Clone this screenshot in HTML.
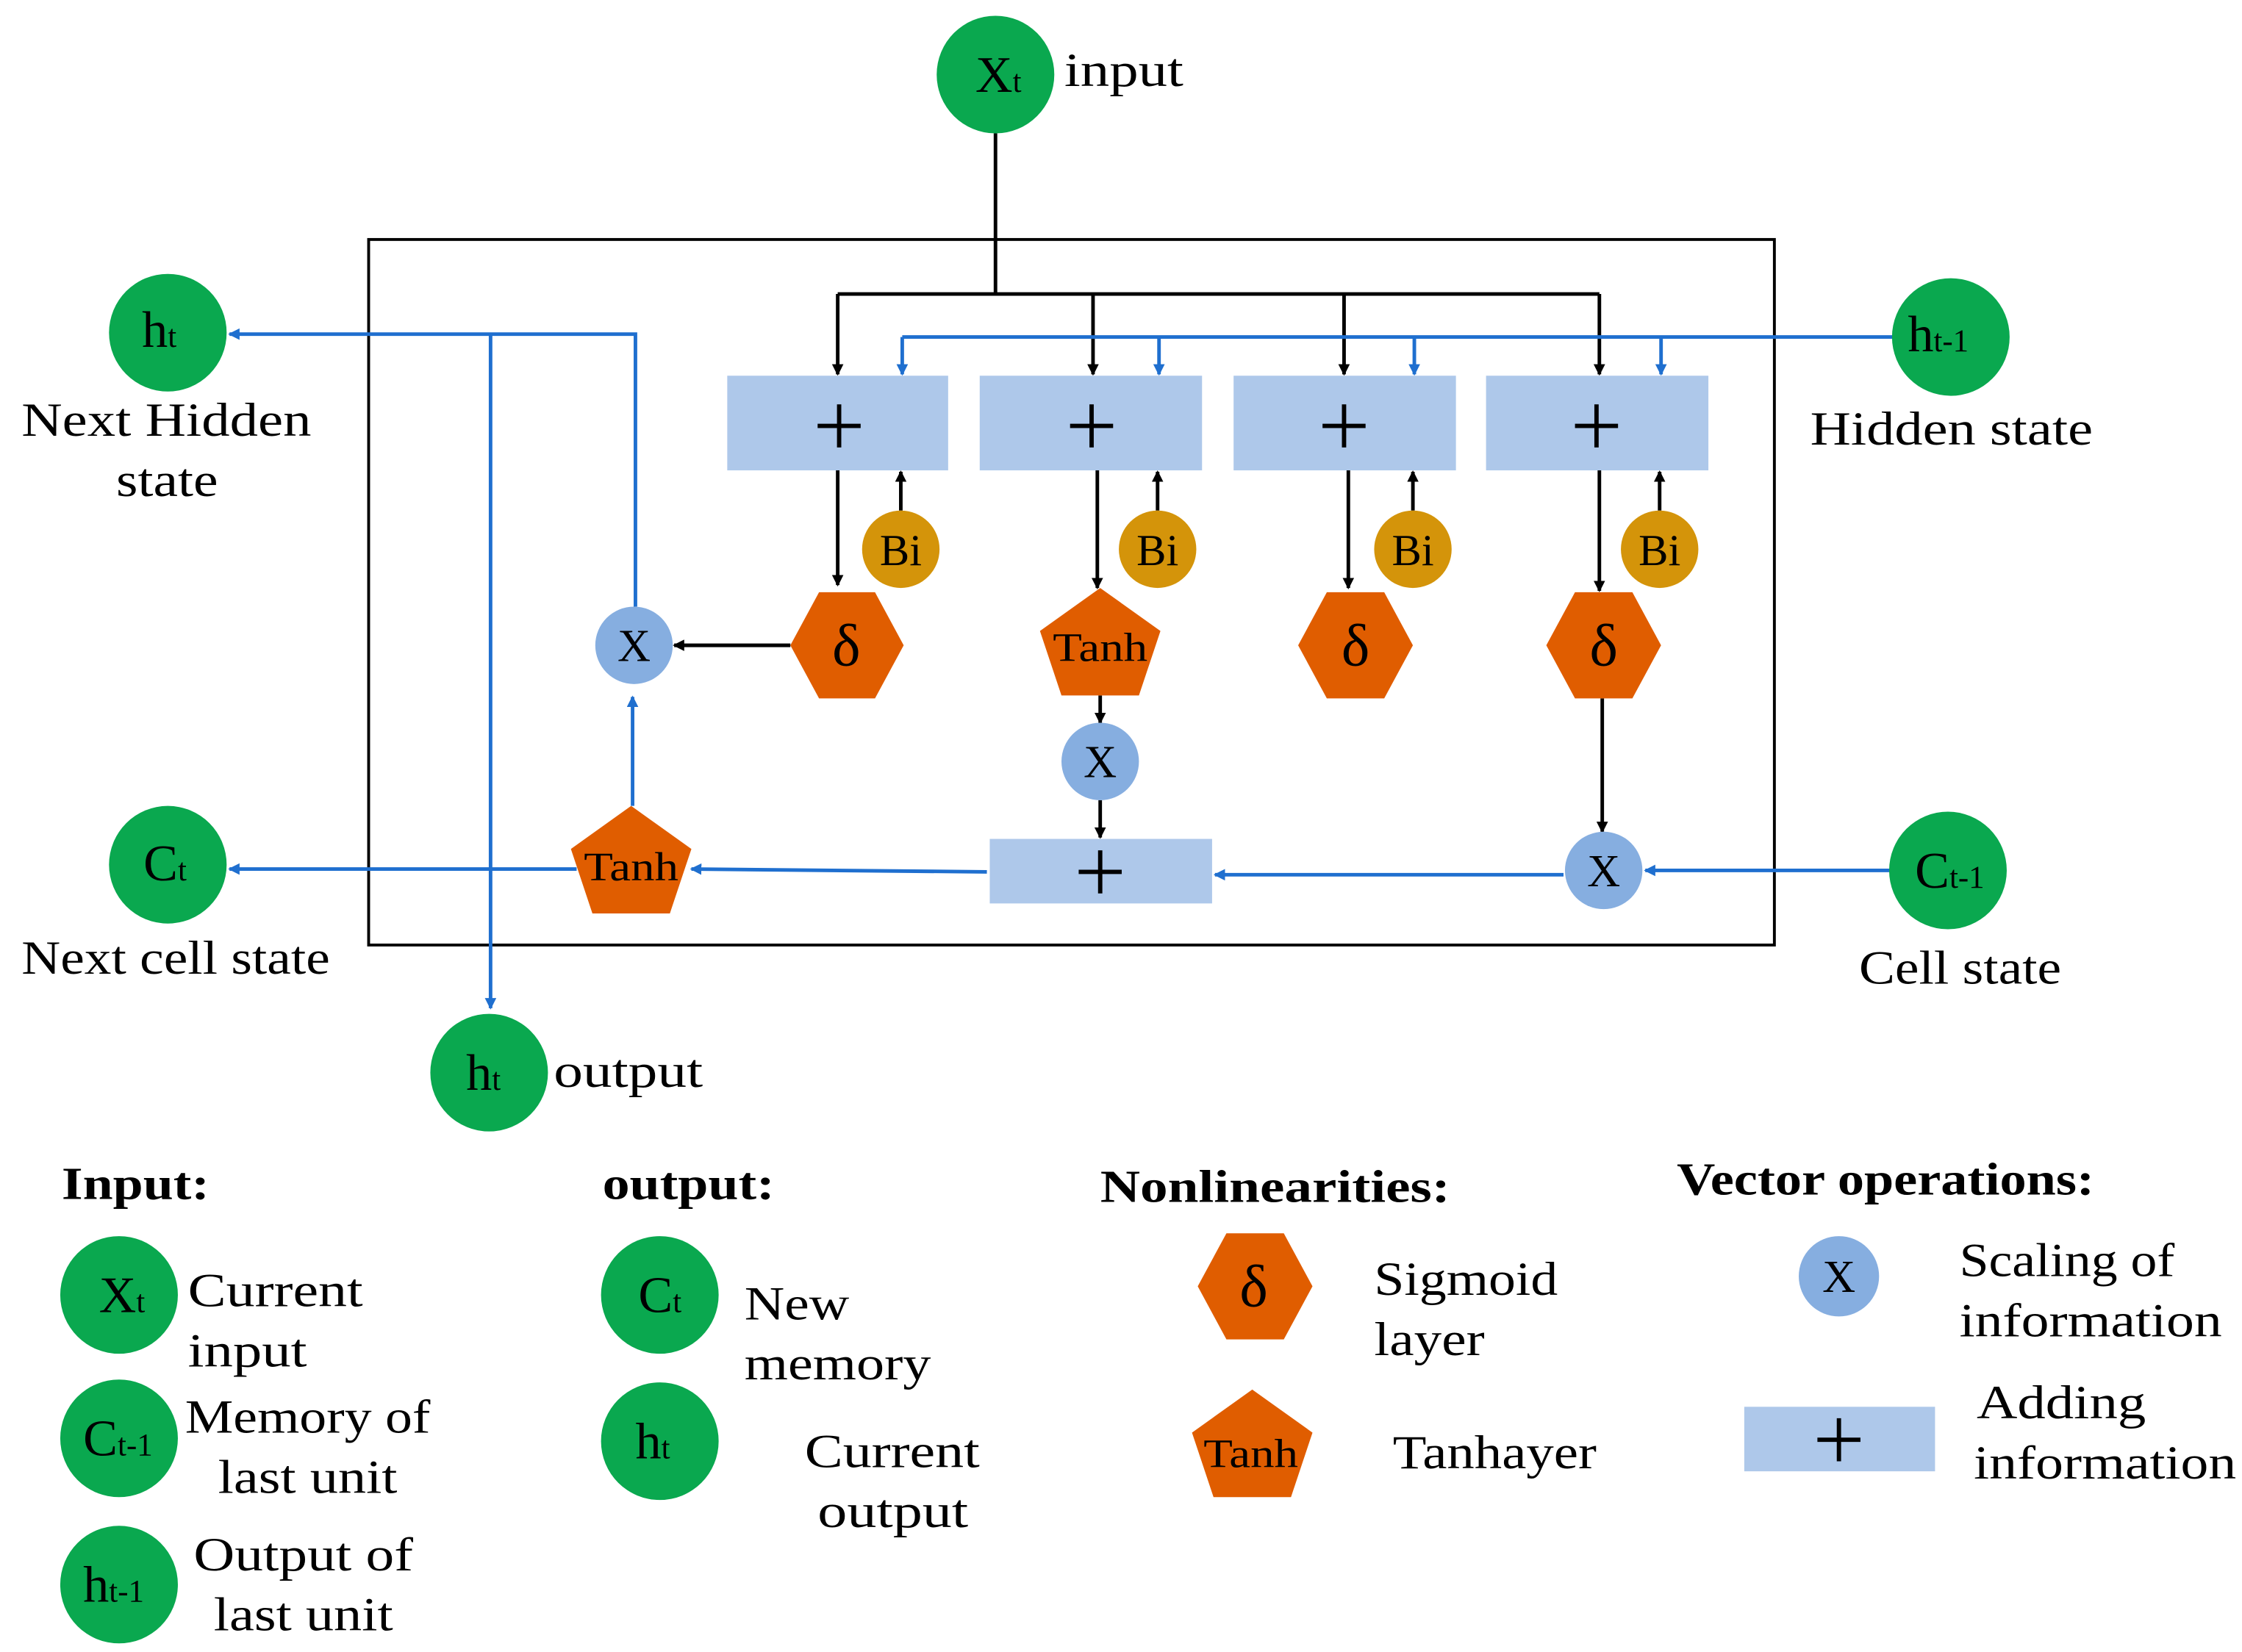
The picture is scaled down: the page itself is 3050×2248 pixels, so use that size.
<!DOCTYPE html>
<html><head><meta charset="utf-8"><style>html,body{margin:0;padding:0;background:#fff}svg{display:block}</style></head>
<body>
<svg width="3050" height="2248" viewBox="0 0 1563 1152" preserveAspectRatio="none" xmlns="http://www.w3.org/2000/svg" font-family="'Liberation Serif', serif">
<defs>
<marker id="ab" markerWidth="8" markerHeight="8" refX="7" refY="4" orient="auto" markerUnits="userSpaceOnUse"><path d="M0,0 L8,4 L0,8 z" fill="#000"/></marker>
<marker id="au" markerWidth="8" markerHeight="8" refX="7" refY="4" orient="auto" markerUnits="userSpaceOnUse"><path d="M0,0 L8,4 L0,8 z" fill="#1f6fcf"/></marker>
</defs>
<rect x="257" y="167" width="980" height="492" fill="none" stroke="#000" stroke-width="2"/>
<g stroke="#000" stroke-width="2.5" fill="none">
<line x1="694" y1="93" x2="694" y2="205"/>
<line x1="584" y1="205" x2="1115" y2="205"/>
<line x1="584" y1="205" x2="584" y2="261" marker-end="url(#ab)"/>
<line x1="762" y1="205" x2="762" y2="261" marker-end="url(#ab)"/>
<line x1="937" y1="205" x2="937" y2="261" marker-end="url(#ab)"/>
<line x1="1115" y1="205" x2="1115" y2="261" marker-end="url(#ab)"/>
<line x1="584" y1="328" x2="584" y2="408" marker-end="url(#ab)"/>
<line x1="765" y1="328" x2="765" y2="410" marker-end="url(#ab)"/>
<line x1="940" y1="328" x2="940" y2="410" marker-end="url(#ab)"/>
<line x1="1115" y1="328" x2="1115" y2="412" marker-end="url(#ab)"/>
<line x1="628" y1="356" x2="628" y2="329" marker-end="url(#ab)"/>
<line x1="807" y1="356" x2="807" y2="329" marker-end="url(#ab)"/>
<line x1="985" y1="356" x2="985" y2="329" marker-end="url(#ab)"/>
<line x1="1157" y1="356" x2="1157" y2="329" marker-end="url(#ab)"/>
<line x1="551" y1="450" x2="470" y2="450" marker-end="url(#ab)"/>
<line x1="767" y1="485" x2="767" y2="504" marker-end="url(#ab)"/>
<line x1="767" y1="558" x2="767" y2="584" marker-end="url(#ab)"/>
<line x1="1117" y1="487" x2="1117" y2="580" marker-end="url(#ab)"/>
</g>
<g stroke="#1f6fcf" stroke-width="2.5" fill="none">
<line x1="629" y1="235" x2="1320" y2="235"/>
<line x1="629" y1="235" x2="629" y2="261" marker-end="url(#au)"/>
<line x1="808" y1="235" x2="808" y2="261" marker-end="url(#au)"/>
<line x1="986" y1="235" x2="986" y2="261" marker-end="url(#au)"/>
<line x1="1158" y1="235" x2="1158" y2="261" marker-end="url(#au)"/>
<line x1="1318" y1="607" x2="1147" y2="607" marker-end="url(#au)"/>
<line x1="1090" y1="610" x2="847" y2="610" marker-end="url(#au)"/>
<line x1="688" y1="608" x2="482" y2="606" marker-end="url(#au)"/>
<line x1="402" y1="606" x2="160" y2="606" marker-end="url(#au)"/>
<line x1="441" y1="562" x2="441" y2="486" marker-end="url(#au)"/>
<polyline points="443,423 443,233 160,233" marker-end="url(#au)"/>
<line x1="342" y1="233" x2="342" y2="703" marker-end="url(#au)"/>
</g>
<g fill="#aec8ea">
<rect x="507" y="262" width="154" height="66"/><rect x="683" y="262" width="155" height="66"/>
<rect x="860" y="262" width="155" height="66"/><rect x="1036" y="262" width="155" height="66"/>
<rect x="690" y="585" width="155" height="45"/>
<rect x="1216" y="981" width="133" height="45"/>
</g>
<g stroke="#000" stroke-width="3">
<path d="M570,297 h30 M585,282 v30"/><path d="M746,297 h30 M761,282 v30"/>
<path d="M922,297 h30 M937,282 v30"/><path d="M1098,297 h30 M1113,282 v30"/>
<path d="M752,608 h30 M767,593 v30"/><path d="M1267,1004 h30 M1282,989 v30"/>
</g>
<g fill="#d4940a"><circle cx="628" cy="383" r="27"/><circle cx="807" cy="383" r="27"/><circle cx="985" cy="383" r="27"/><circle cx="1157" cy="383" r="27"/></g>
<g font-size="31" text-anchor="middle"><text x="628" y="394">Bi</text><text x="807" y="394">Bi</text><text x="985" y="394">Bi</text><text x="1157" y="394">Bi</text></g>
<g fill="#e05d00">
<polygon points="551,450 571,413 610,413 630,450 610,487 571,487"/>
<polygon points="905,450 925,413 965,413 985,450 965,487 925,487"/>
<polygon points="1078,450 1098,413 1138,413 1158,450 1138,487 1098,487"/>
<polygon points="835,897 855,860 895,860 915,897 895,934 855,934"/>
<polygon points="767,410 809,440 794,485 740,485 725,440"/>
<polygon points="440,562 482,592 467,637 413,637 398,592"/>
<polygon points="873,969 915,999 900,1044 846,1044 831,999"/>
</g>
<g font-size="42" text-anchor="middle"><text x="590" y="464">δ</text><text x="945" y="464">δ</text><text x="1118" y="464">δ</text><text x="874" y="911">δ</text></g>
<g font-size="28" text-anchor="middle"><text x="767" y="461" textLength="66" lengthAdjust="spacingAndGlyphs">Tanh</text><text x="440" y="614" textLength="66" lengthAdjust="spacingAndGlyphs">Tanh</text><text x="872" y="1023" textLength="66" lengthAdjust="spacingAndGlyphs">Tanh</text></g>
<g fill="#86aee0"><circle cx="442" cy="450" r="27"/><circle cx="767" cy="531" r="27"/><circle cx="1118" cy="607" r="27"/><circle cx="1282" cy="890" r="28"/></g>
<g font-size="32" text-anchor="middle"><text x="442" y="461">X</text><text x="767" y="542">X</text><text x="1118" y="618">X</text><text x="1282" y="901">X</text></g>
<g fill="#0aa84f">
<circle cx="694" cy="52" r="41"/><circle cx="1360" cy="235" r="41"/><circle cx="117" cy="232" r="41"/>
<circle cx="117" cy="603" r="41"/><circle cx="1358" cy="607" r="41"/><circle cx="341" cy="748" r="41"/>
<circle cx="83" cy="903" r="41"/><circle cx="83" cy="1003" r="41"/><circle cx="83" cy="1105" r="41"/>
<circle cx="460" cy="903" r="41"/><circle cx="460" cy="1005" r="41"/>
</g>
<g font-size="36">
<text x="680" y="64">X<tspan font-size="22">t</tspan></text>
<text x="1330" y="245">h<tspan font-size="22">t-1</tspan></text>
<text x="99" y="242">h<tspan font-size="22">t</tspan></text>
<text x="100" y="614">C<tspan font-size="22">t</tspan></text>
<text x="1335" y="619">C<tspan font-size="22">t-1</tspan></text>
<text x="325" y="760">h<tspan font-size="22">t</tspan></text>
<text x="69" y="915">X<tspan font-size="22">t</tspan></text>
<text x="58" y="1015">C<tspan font-size="22">t-1</tspan></text>
<text x="58" y="1117">h<tspan font-size="22">t-1</tspan></text>
<text x="445" y="915">C<tspan font-size="22">t</tspan></text>
<text x="443" y="1017">h<tspan font-size="22">t</tspan></text>
</g>
<g font-size="33" fill="#000" lengthAdjust="spacingAndGlyphs">
<text x="742" y="60" textLength="83" lengthAdjust="spacingAndGlyphs">input</text>
<text x="1262" y="310" textLength="197" lengthAdjust="spacingAndGlyphs">Hidden state</text>
<text x="15" y="304" textLength="202" lengthAdjust="spacingAndGlyphs">Next Hidden</text>
<text x="81" y="346" textLength="71" lengthAdjust="spacingAndGlyphs">state</text>
<text x="15" y="679" textLength="215" lengthAdjust="spacingAndGlyphs">Next cell state</text>
<text x="1296" y="686" textLength="141" lengthAdjust="spacingAndGlyphs">Cell state</text>
<text x="386" y="758" textLength="104" lengthAdjust="spacingAndGlyphs">output</text>
<text x="131" y="911" textLength="122" lengthAdjust="spacingAndGlyphs">Current</text><text x="131" y="953" textLength="83" lengthAdjust="spacingAndGlyphs">input</text>
<text x="129" y="999" textLength="171" lengthAdjust="spacingAndGlyphs">Memory of</text><text x="152" y="1041" textLength="125" lengthAdjust="spacingAndGlyphs">last unit</text>
<text x="135" y="1095" textLength="153" lengthAdjust="spacingAndGlyphs">Output of</text><text x="149" y="1137" textLength="125" lengthAdjust="spacingAndGlyphs">last unit</text>
<text x="519" y="920" textLength="73" lengthAdjust="spacingAndGlyphs">New</text><text x="519" y="962" textLength="130" lengthAdjust="spacingAndGlyphs">memory</text>
<text x="561" y="1023" textLength="122" lengthAdjust="spacingAndGlyphs">Current</text><text x="570" y="1065" textLength="105" lengthAdjust="spacingAndGlyphs">output</text>
<text x="958" y="903" textLength="128" lengthAdjust="spacingAndGlyphs">Sigmoid</text><text x="958" y="945" textLength="77" lengthAdjust="spacingAndGlyphs">layer</text>
<text x="971" y="1024" textLength="142" lengthAdjust="spacingAndGlyphs">Tanhayer</text>
<text x="1366" y="890" textLength="150" lengthAdjust="spacingAndGlyphs">Scaling of</text><text x="1366" y="932" textLength="183" lengthAdjust="spacingAndGlyphs">information</text>
<text x="1378" y="989" textLength="118" lengthAdjust="spacingAndGlyphs">Adding</text><text x="1376" y="1031" textLength="183" lengthAdjust="spacingAndGlyphs">information</text>
</g>
<g font-size="32" font-weight="bold">
<text x="43" y="836" textLength="103" lengthAdjust="spacingAndGlyphs">Input:</text><text x="420" y="836" textLength="120" lengthAdjust="spacingAndGlyphs">output:</text>
<text x="767" y="838" textLength="244" lengthAdjust="spacingAndGlyphs">Nonlinearities:</text><text x="1169" y="833" textLength="291" lengthAdjust="spacingAndGlyphs">Vector operations:</text>
</g>
</svg>
</body></html>
